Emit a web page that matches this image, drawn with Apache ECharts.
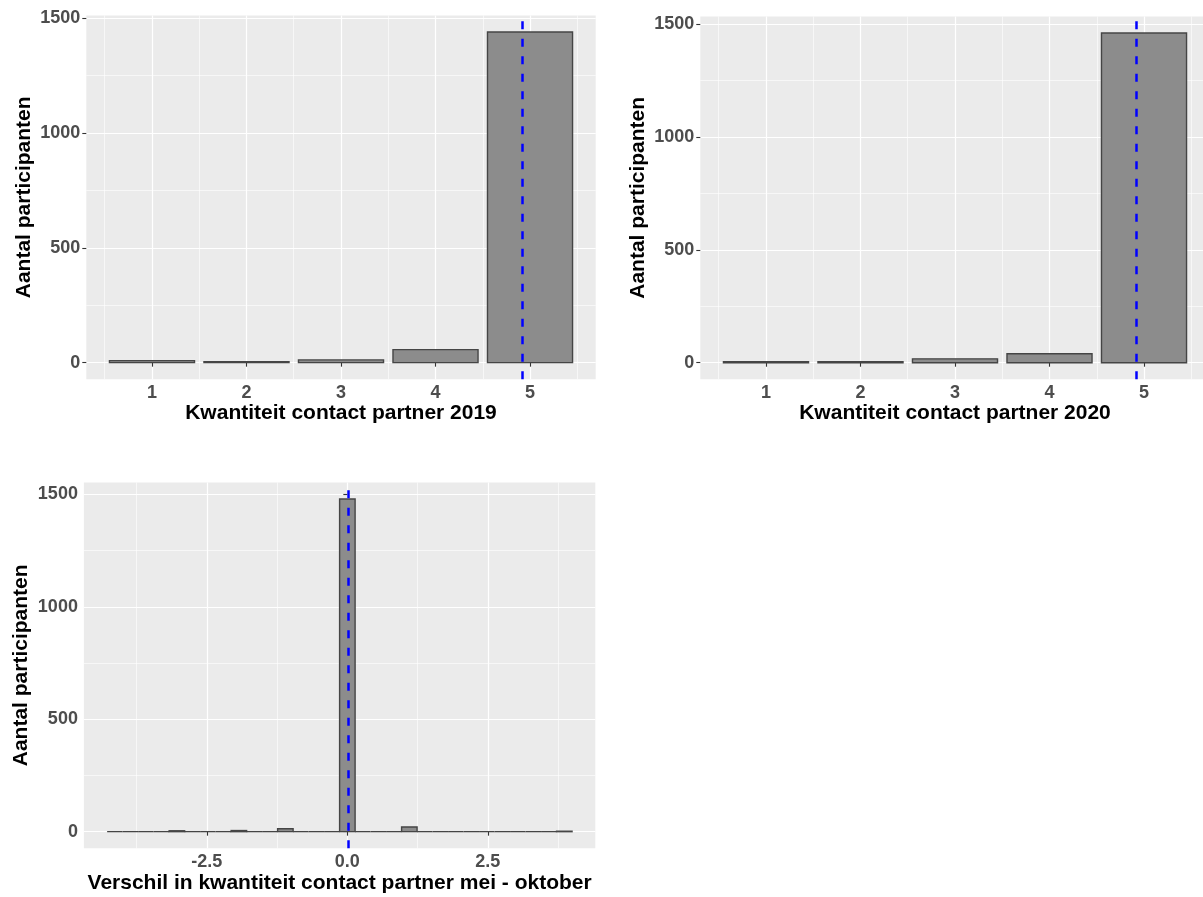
<!DOCTYPE html>
<html>
<head>
<meta charset="utf-8">
<script src="https://cdn.jsdelivr.net/npm/echarts@6/dist/echarts.min.js"></script>
<style>
html,body{margin:0;padding:0;background:#fff;overflow:hidden;width:1203px;height:897px;}
#chart{width:1225px;height:897px;}
</style>
</head>
<body>
<div id="chart"></div>
<script>
// ---- data ----
const scoreCategories = [1, 2, 3, 4, 5];
const counts2019 = [9, 4, 12, 57, 1440];
const counts2020 = [4, 4, 17, 40, 1460];
const mean2019 = 4.92;
const mean2020 = 4.92;

const diffBinStart = -4.273;
const diffBinWidth = 0.2757;
const diffCounts = [0,0,0,0,4,0,0,0,5,0,0,13,0,0,0,1479,0,0,0,21,0,0,0,0,0,0,0,0,0,2];
const meanDiff = 0.01;

const yTicks = [0, 500, 1000, 1500];
const scoreTicks = [1, 2, 3, 4, 5];
const diffTicks = [-2.5, 0, 2.5];

const yTitle = 'Aantal participanten';
const xTitle2019 = 'Kwantiteit contact partner 2019';
const xTitle2020 = 'Kwantiteit contact partner 2020';
const xTitleDiff = 'Verschil in kwantiteit contact partner mei - oktober';

// ---- chart ----
const FONT = "'Liberation Sans', Arial, sans-serif";
const BAR_WIDTH = 0.9;

function barRender(halfWidth) {
  return function (params, api) {
    const x = api.value(0), y = api.value(1);
    const p0 = api.coord([x - halfWidth, y]);
    const p1 = api.coord([x + halfWidth, 0]);
    return {
      type: 'rect',
      shape: { x: p0[0], y: p0[1], width: p1[0] - p0[0], height: p1[1] - p0[1] },
      style: { fill: '#8C8C8C', stroke: '#454545', lineWidth: 1.4 }
    };
  };
}

function meanLine(v) {
  return {
    silent: true,
    symbol: ['none', 'none'],
    label: { show: false },
    emphasis: { disabled: true },
    animation: false,
    lineStyle: { color: '#0000FF', width: 2.5, type: [8, 9.5] },
    data: [{ xAxis: v }]
  };
}

function xAxisCfg(gi, min, max, step, ticks, name, fmt) {
  return {
    type: 'value', gridIndex: gi, min: min, max: max,
    minInterval: step, maxInterval: step,
    name: name, nameLocation: 'middle', nameGap: 24,
    nameTextStyle: { fontSize: 21, fontWeight: 'bold', color: '#000', fontFamily: FONT },
    axisLine: { show: false },
    axisTick: { show: true, length: 4, customValues: ticks, lineStyle: { color: '#333', width: 1.1 } },
    axisLabel: { customValues: ticks, formatter: fmt, fontSize: 18, fontWeight: 'bold', color: '#4D4D4D', fontFamily: FONT, margin: 5 },
    splitLine: { show: true, lineStyle: { color: '#FFFFFF', width: 1.2 } },
    minorTick: { show: false, splitNumber: 2 },
    minorSplitLine: { show: true, lineStyle: { color: '#FFFFFF', width: 0.6 } }
  };
}

function yAxisCfg(gi, min, max) {
  return {
    type: 'value', gridIndex: gi, min: min, max: max,
    minInterval: 500, maxInterval: 500,
    name: yTitle, nameLocation: 'middle', nameGap: 52,
    nameTextStyle: { fontSize: 21, fontWeight: 'bold', color: '#000', fontFamily: FONT },
    axisLine: { show: false },
    axisTick: { show: true, length: 4, customValues: yTicks, lineStyle: { color: '#333', width: 1.1 } },
    axisLabel: { customValues: yTicks, formatter: v => String(v), fontSize: 18, fontWeight: 'bold', color: '#4D4D4D', fontFamily: FONT, margin: 6 },
    splitLine: { show: true, lineStyle: { color: '#FFFFFF', width: 1.2 } },
    minorTick: { show: false, splitNumber: 2 },
    minorSplitLine: { show: true, lineStyle: { color: '#FFFFFF', width: 0.6 } }
  };
}

const gridStyle = { show: true, backgroundColor: '#EBEBEB', borderWidth: 0, containLabel: false };

const diffCenters = diffCounts.map((c, i) => diffBinStart + (i + 0.5) * diffBinWidth);
const diffMin = diffBinStart - 0.05 * diffCounts.length * diffBinWidth;
const diffMax = diffBinStart + 1.05 * diffCounts.length * diffBinWidth;

const chart = echarts.init(document.getElementById('chart'), null, { renderer: 'canvas' });
chart.setOption({
  animation: false,
  backgroundColor: '#FFFFFF',
  textStyle: { fontFamily: FONT },
  grid: [
    Object.assign({ left: 86.3, top: 15.5, width: 509.4, height: 363.7 }, gridStyle),
    Object.assign({ left: 700.3, top: 16.5, width: 509.4, height: 362.7 }, gridStyle),
    Object.assign({ left: 83.9, top: 482.4, width: 511.4, height: 365.9 }, gridStyle)
  ],
  xAxis: [
    xAxisCfg(0, 0.305, 5.695, 1, scoreTicks, xTitle2019, v => String(v)),
    xAxisCfg(1, 0.305, 5.695, 1, scoreTicks, xTitle2020, v => String(v)),
    xAxisCfg(2, diffMin, diffMax, 2.5, diffTicks, xTitleDiff, v => Number(v).toFixed(1))
  ],
  yAxis: [
    yAxisCfg(0, -0.05 * Math.max(...counts2019), 1.05 * Math.max(...counts2019)),
    yAxisCfg(1, -0.05 * Math.max(...counts2020), 1.05 * Math.max(...counts2020)),
    yAxisCfg(2, -0.05 * Math.max(...diffCounts), 1.05 * Math.max(...diffCounts))
  ],
  series: [
    {
      type: 'custom', xAxisIndex: 0, yAxisIndex: 0, clip: false,
      renderItem: barRender(BAR_WIDTH / 2),
      data: scoreCategories.map((c, i) => [c, counts2019[i]]),
      markLine: meanLine(mean2019)
    },
    {
      type: 'custom', xAxisIndex: 1, yAxisIndex: 1, clip: false,
      renderItem: barRender(BAR_WIDTH / 2),
      data: scoreCategories.map((c, i) => [c, counts2020[i]]),
      markLine: meanLine(mean2020)
    },
    {
      type: 'custom', xAxisIndex: 2, yAxisIndex: 2, clip: false,
      renderItem: barRender(diffBinWidth / 2),
      data: diffCenters.map((c, i) => [c, diffCounts[i]]),
      markLine: meanLine(meanDiff)
    }
  ]
});
</script>
</body>
</html>
